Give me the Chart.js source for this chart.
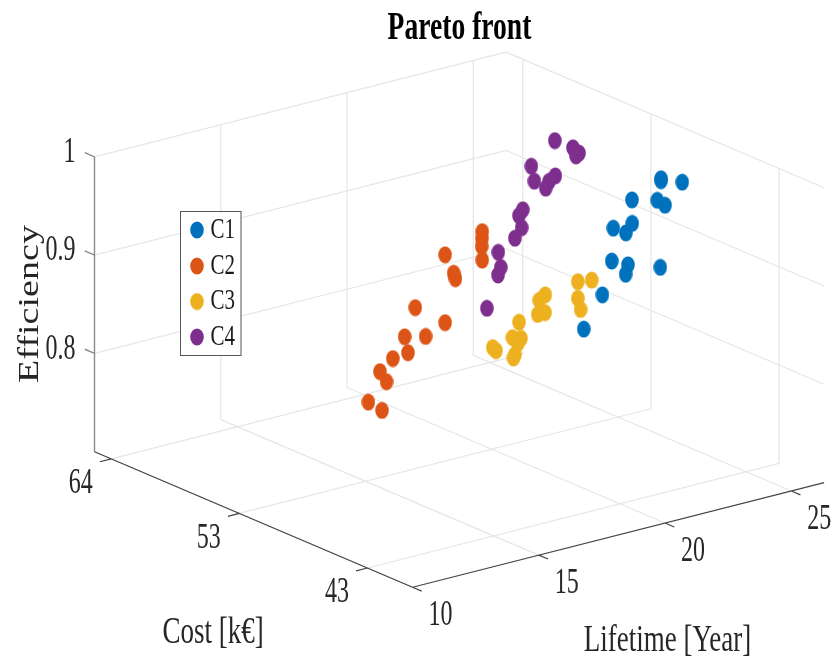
<!DOCTYPE html>
<html>
<head>
<meta charset="utf-8">
<title>Pareto front</title>
<script src="https://cdn.jsdelivr.net/npm/chart.js@4"></script>
<style>
  html, body { margin: 0; padding: 0; background: #fff; }
  #wrap { width: 833px; height: 660px; }
</style>
</head>
<body>
<div id="wrap"><canvas id="paretoChart" width="833" height="660"></canvas></div>
<script>
// Tick values and labels
const lifetimeTicks = [10, 15, 20, 25];
const lifetimeLabels = ["10", "15", "20", "25"];
const costTicks = [64, 53.5, 43];
const costLabels = ["64", "53", "43"];
const efficiencyTicks = [0.8, 0.9, 1];
const efficiencyLabels = ["0.8", "0.9", "1"];

// Axis limits
const lifetimeRange = [10, 26.3];
const costRange = [39.3, 65.37];
const efficiencyRange = [0.7, 1];

// Series. Depth can't be read from a flat view, so each group sits at one estimated cost
const c1Cost = 50;
const c1Lifetime = [25.01, 25.01, 25.85, 23.86, 24.86, 25.17, 23.87, 23.12, 23.62, 23.06, 23.70, 23.61, 24.98, 22.69, 21.95];
const c1Efficiency = [0.961, 0.959, 0.952, 0.947, 0.940, 0.933, 0.923, 0.923, 0.915, 0.890, 0.882, 0.873, 0.871, 0.858, 0.828];

const c2Cost = 60;
const c2Lifetime = [22.76, 22.75, 22.74, 22.76, 21.29, 21.63, 21.70, 20.11, 21.29, 20.52, 19.69, 19.82, 19.22, 18.71, 18.97, 18.25, 18.79];
const c2Efficiency = [0.869, 0.862, 0.854, 0.840, 0.855, 0.834, 0.828, 0.809, 0.786, 0.777, 0.782, 0.765, 0.763, 0.753, 0.741, 0.725, 0.713];

const c3Cost = 45;
const c3Lifetime = [19.30, 19.85, 19.30, 19.41, 18.01, 17.77, 18.00, 17.71, 16.97, 16.71, 17.05, 16.93, 16.81, 16.75, 15.93, 16.06];
const c3Efficiency = [0.920, 0.918, 0.903, 0.891, 0.915, 0.911, 0.897, 0.897, 0.894, 0.880, 0.877, 0.873, 0.862, 0.859, 0.875, 0.871];

const c4Cost = 55;
const c4Lifetime = [23.22, 23.94, 24.18, 24.06, 22.29, 22.41, 23.24, 22.99, 22.86, 21.95, 21.80, 21.91, 21.64, 20.98, 21.08, 20.97, 20.53];
const c4Efficiency = [0.985, 0.973, 0.966, 0.964, 0.965, 0.949, 0.949, 0.945, 0.939, 0.923, 0.918, 0.905, 0.896, 0.886, 0.870, 0.863, 0.832];

const colors = ["#0072BD", "#DD5516", "#EDB120", "#7E2F8E"];
const seriesNames = ["C1", "C2", "C3", "C4"];

// Fixed 3D view: maps (lifetime, cost, efficiency) to the chart's flat x/y scales
function project(lifetime, cost, efficiency) {
  const dL = lifetime - lifetimeRange[0];
  const dC = costRange[1] - cost;
  return {
    x: 94.5 + 25.25 * dL + 12.2 * dC,
    y: 451.7 - 6.42 * dL + 5.2 * dC - 983 * (efficiency - efficiencyRange[0])
  };
}

// Segments split by NaN so a single dataset can hold many separate lines
function segments(list) {
  const out = [];
  list.forEach(([a, b]) => {
    out.push(project(...a), project(...b), { x: NaN, y: NaN });
  });
  return out;
}

const [lMin, lMax] = lifetimeRange;
const [cMin, cMax] = costRange;
const [eMin, eMax] = efficiencyRange;

const gridLines = [];
lifetimeTicks.forEach(l => {
  gridLines.push([[l, cMax, eMin], [l, cMin, eMin]]);
  if (l > lMin) gridLines.push([[l, cMax, eMin], [l, cMax, eMax]]);
});
costTicks.forEach(c => {
  gridLines.push([[lMin, c, eMin], [lMax, c, eMin]]);
  gridLines.push([[lMax, c, eMin], [lMax, c, eMax]]);
});
efficiencyTicks.forEach(e => {
  gridLines.push([[lMin, cMax, e], [lMax, cMax, e]]);
  gridLines.push([[lMax, cMax, e], [lMax, cMin, e]]);
});

const darkAxes = [
  [[lMin, cMax, eMin], [lMin, cMin, eMin]],
  [[lMin, cMin, eMin], [lMax, cMin, eMin]]
];
lifetimeTicks.forEach(l => darkAxes.push([[l, cMin, eMin], [l, cMin - 0.75, eMin]]));
costTicks.forEach(c => darkAxes.push([[lMin, c, eMin], [lMin - 0.45, c, eMin]]));

const heightAxis = [[[lMin, cMax, eMin], [lMin, cMax, eMax]]];
efficiencyTicks.forEach(e => heightAxis.push([[lMin, cMax, e], [lMin, cMax + 0.8, e]]));

// The picture is stretched upward, so markers are tall ellipses
function makeDot(color) {
  const c = document.createElement("canvas");
  c.width = 14;
  c.height = 18;
  const g = c.getContext("2d");
  g.fillStyle = color;
  g.beginPath();
  g.ellipse(7, 9, 6.8, 8.6, 0, 0, Math.PI * 2);
  g.fill();
  return c;
}
const dots = colors.map(makeDot);

function pointsOf(lifetime, efficiency, cost) {
  return lifetime.map((l, i) => project(l, cost, efficiency[i]));
}

function stretchedText(ctx, text, x, y, opts) {
  const o = Object.assign({ size: 24, sx: 1, sy: 1.45, rot: 0, bold: false, align: "center", color: "#262626" }, opts);
  ctx.save();
  ctx.translate(x, y);
  ctx.rotate(o.rot);
  ctx.scale(o.sx, o.sy);
  ctx.font = (o.bold ? "bold " : "") + o.size + 'px "Liberation Serif"';
  ctx.textAlign = o.align;
  ctx.textBaseline = "middle";
  ctx.fillStyle = o.color;
  ctx.fillText(text, 0, 0);
  ctx.restore();
}

const textLayer = {
  id: "textLayer",
  afterDraw(chart) {
    const ctx = chart.ctx;
    const sx = chart.scales.x;
    const sy = chart.scales.y;

    // tick labels sit a fixed distance off their tick
    lifetimeTicks.forEach((l, i) => {
      const p = project(l, cMin, eMin);
      stretchedText(ctx, lifetimeLabels[i], sx.getPixelForValue(p.x) + 28, sy.getPixelForValue(p.y) + 29);
    });
    costTicks.forEach((c, i) => {
      const p = project(lMin, c, eMin);
      stretchedText(ctx, costLabels[i], sx.getPixelForValue(p.x) - 30.5, sy.getPixelForValue(p.y) + 25);
    });
    efficiencyTicks.forEach((e, i) => {
      const p = project(lMin, cMax, e);
      stretchedText(ctx, efficiencyLabels[i], sx.getPixelForValue(p.x) - 19, sy.getPixelForValue(p.y) - 4, { align: "right" });
    });

    stretchedText(ctx, "Pareto front", 459.5, 29, { size: 27.6, sy: 1.42, bold: true, color: "#000" });
    stretchedText(ctx, "Cost [k€]", 213, 633, { size: 27, sy: 1.38 });
    stretchedText(ctx, "Lifetime [Year]", 667.5, 641, { size: 27, sy: 1.38 });
    stretchedText(ctx, "Efficiency", 30, 304, { size: 30, sx: 1.27, sy: 1, rot: -Math.PI / 2 });

    // legend box
    ctx.fillStyle = "#fff";
    ctx.strokeStyle = "#555";
    ctx.lineWidth = 1;
    ctx.fillRect(180.5, 211.5, 60.5, 144);
    ctx.strokeRect(180.5, 211.5, 60.5, 144);
    const rows = [230, 266, 301.5, 337];
    seriesNames.forEach((name, i) => {
      ctx.drawImage(dots[i], 190, rows[i] - 9);
      stretchedText(ctx, name, 210.5, rows[i], { size: 21, align: "left", color: "#1a1a1a" });
    });
  }
};

const ctx = document.getElementById("paretoChart");
new Chart(ctx, {
  type: "scatter",
  data: {
    datasets: [
      { label: "grid", data: segments(gridLines), showLine: true, spanGaps: false, borderColor: "#e6e6e6", borderWidth: 1.2, pointRadius: 0, order: 4 },
      { label: "height axis", data: segments(heightAxis), showLine: true, spanGaps: false, borderColor: "#8a8a8a", borderWidth: 1.4, pointRadius: 0, order: 3 },
      { label: "axes", data: segments(darkAxes), showLine: true, spanGaps: false, borderColor: "#454545", borderWidth: 1.2, pointRadius: 0, order: 2 },
      { label: seriesNames[0], data: pointsOf(c1Lifetime, c1Efficiency, c1Cost), pointStyle: dots[0], order: 1 },
      { label: seriesNames[1], data: pointsOf(c2Lifetime, c2Efficiency, c2Cost), pointStyle: dots[1], order: 1 },
      { label: seriesNames[2], data: pointsOf(c3Lifetime, c3Efficiency, c3Cost), pointStyle: dots[2], order: 1 },
      { label: seriesNames[3], data: pointsOf(c4Lifetime, c4Efficiency, c4Cost), pointStyle: dots[3], order: 1 }
    ]
  },
  options: {
    responsive: false,
    animation: false,
    layout: { padding: 0, autoPadding: false },
    scales: {
      x: { type: "linear", display: false, min: 0, max: 833 },
      y: { type: "linear", display: false, min: 0, max: 660, reverse: true }
    },
    plugins: {
      legend: { display: false },
      title: { display: false },
      tooltip: { enabled: false }
    }
  },
  plugins: [textLayer]
});
</script>
</body>
</html>
